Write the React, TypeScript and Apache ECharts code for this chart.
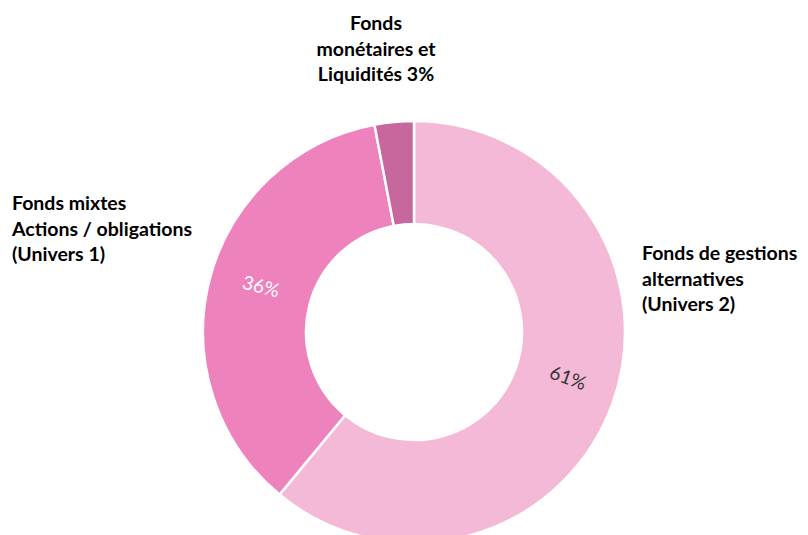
import React, { useEffect, useRef } from "react";
import * as echarts from "echarts";

const categories = [
  "Fonds de gestions\nalternatives\n(Univers 2)",
  "Fonds mixtes\nActions / obligations\n(Univers 1)",
  "Fonds\nmonétaires et\nLiquidités",
];
const values = [61, 36, 3];
const colors = ["#F4B9D7", "#EE82BD", "#C6679D"];
const insideLabelColors = ["#333333", "#ffffff", "#ffffff"];

const insideLabelShift = [
  { dx: -2, dy: -10 },
  { dx: 3, dy: -7 },
  { dx: 0, dy: 0 },
];
const outsideLabelPos = [
  { x: 642, y: 278, align: "left" },
  { x: 12, y: 228, align: "left" },
  { x: 376, y: 48, align: "center" },
];

export default function App() {
  const ref = useRef<HTMLDivElement>(null);
  useEffect(() => {
    if (!ref.current) return;
    const chart = echarts.init(ref.current, null, { renderer: "svg" });
    chart.setOption({
      animation: false,
      backgroundColor: "#ffffff",
      series: [
        {
          type: "pie",
          center: [414, 332],
          radius: [108, 211],
          startAngle: 90,
          clockwise: true,
          silent: true,
          itemStyle: { borderColor: "#ffffff", borderWidth: 2.5 },
          label: {
            show: true,
            position: "inside",
            rotate: "radial",
            fontFamily: "Lato",
            fontSize: 19,
            formatter: (p: any) => (p.value >= 5 ? p.value + "%" : ""),
          },
          labelLine: { show: false },
          labelLayout: (params: any) => insideLabelShift[params.dataIndex],
          data: values.map((v, i) => ({
            value: v,
            name: categories[i],
            itemStyle: { color: colors[i] },
            label: { color: insideLabelColors[i] },
          })),
        },
        {
          type: "pie",
          center: [414, 332],
          radius: [108, 211],
          startAngle: 90,
          clockwise: true,
          silent: true,
          itemStyle: { color: "rgba(0,0,0,0)", borderWidth: 0 },
          label: {
            show: true,
            position: "outside",
            fontFamily: "Lato",
            fontWeight: "bold",
            fontSize: 19.5,
            lineHeight: 25.5,
            color: "#000000",
            overflow: "none",
            width: 300,
            formatter: (p: any) => (p.value < 5 ? p.name + " " + p.value + "%" : p.name),
          },
          labelLine: { show: false },
          labelLayout: (params: any) => {
            const pos = outsideLabelPos[params.dataIndex];
            return { x: pos.x, y: pos.y, align: pos.align, verticalAlign: "middle" };
          },
          data: values.map((v, i) => ({ value: v, name: categories[i] })),
        },
      ],
    });
    return () => chart.dispose();
  }, []);
  return (
    <div
      ref={ref}
      style={{ position: "fixed", left: 0, top: 0, width: 808, height: 535 }}
    />
  );
}
